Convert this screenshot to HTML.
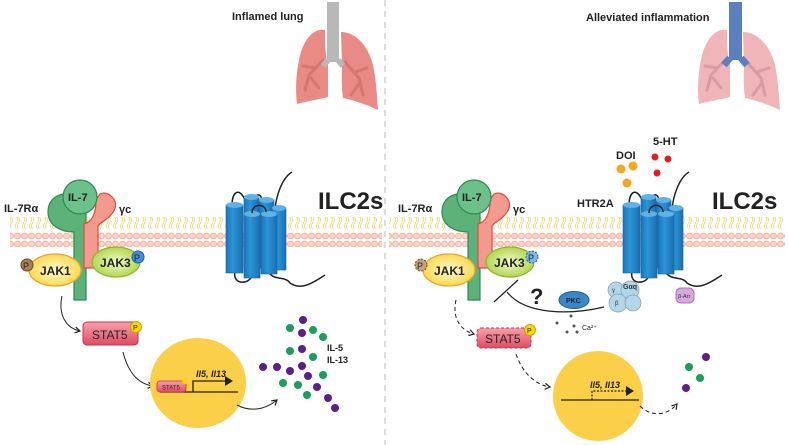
<!DOCTYPE html>
<html><head><meta charset="utf-8"><style>
html,body{margin:0;padding:0;background:#fff}
svg{display:block}
text{font-family:"Liberation Sans",Arial,sans-serif}
</style></head><body>
<svg width="788" height="445" viewBox="0 0 788 445" xmlns="http://www.w3.org/2000/svg">
<defs>
<pattern id="mem" x="0" y="0" width="7" height="30" patternUnits="userSpaceOnUse">
<circle cx="3.5" cy="4" r="3" fill="#fbd3c8" stroke="#f2a797" stroke-width="0.8"/>
<circle cx="3.5" cy="26" r="3" fill="#fbd3c8" stroke="#f2a797" stroke-width="0.8"/>
<path d="M2.5 7 q2 3 0 6 t0 6 M4.5 7 q2 3 0 6 t0 6" stroke="#f3c63a" stroke-width="0.6" fill="none"/>
</pattern>
<linearGradient id="cyl" x1="0" x2="1"><stop offset="0" stop-color="#1d74b8"/><stop offset="0.4" stop-color="#2a95d8"/><stop offset="1" stop-color="#1b6fb0"/></linearGradient>
<radialGradient id="jak1" cx="0.5" cy="0.5" r="0.6"><stop offset="0" stop-color="#fffbd0"/><stop offset="1" stop-color="#f8d23a"/></radialGradient>
<radialGradient id="jak3" cx="0.5" cy="0.5" r="0.6"><stop offset="0" stop-color="#f2fbc8"/><stop offset="1" stop-color="#a6cf3a"/></radialGradient>
<linearGradient id="stat" x1="0" x2="0" y1="0" y2="1"><stop offset="0" stop-color="#f7a0ac"/><stop offset="1" stop-color="#e04c63"/></linearGradient>
<marker id="ah" markerWidth="8" markerHeight="8" refX="6" refY="4" orient="auto"><path d="M1 1 L6 4 L1 7" fill="none" stroke="#222" stroke-width="1.2"/></marker>
<g id="gpcr">
<path d="M245 200 C240 188 232 190 232 206 M262 202 C262 190 252 195 254 204 M275 210 C276 196 282 178 292 172" stroke="#222" stroke-width="1.5" fill="none"/>
<path d="M235 272 C232 285 250 285 252 275 M268 270 C272 282 285 275 290 283 C300 290 310 285 325 275" stroke="#222" stroke-width="1.5" fill="none"/>
<rect x="244" y="197" width="15" height="70" fill="url(#cyl)" stroke="#16629c" stroke-width="0.6"/><ellipse cx="251.5" cy="197" rx="7.5" ry="3" fill="#5fb2e6"/>
<rect x="259" y="200" width="15" height="68" fill="url(#cyl)" stroke="#16629c" stroke-width="0.6"/><ellipse cx="266.5" cy="200" rx="7.5" ry="3" fill="#5fb2e6"/>
<rect x="272" y="208" width="14" height="62" fill="url(#cyl)" stroke="#16629c" stroke-width="0.6"/><ellipse cx="279" cy="208" rx="7" ry="3" fill="#5fb2e6"/>
<rect x="226" y="205" width="17" height="68" fill="url(#cyl)" stroke="#16629c" stroke-width="0.6"/><ellipse cx="234.5" cy="205" rx="8.5" ry="3" fill="#5fb2e6"/>
<rect x="244" y="214" width="16" height="64" fill="url(#cyl)" stroke="#16629c" stroke-width="0.6"/><ellipse cx="252" cy="214" rx="8" ry="3" fill="#5fb2e6"/>
<rect x="261" y="214" width="16" height="60" fill="url(#cyl)" stroke="#16629c" stroke-width="0.6"/><ellipse cx="269" cy="214" rx="8" ry="3" fill="#5fb2e6"/>
<path d="M252 213 C252 203 266 203 266 212" stroke="#222" stroke-width="1.5" fill="none"/>
</g>
<g id="rec">
<path d="M74 300 L74 232 C60 232 48 225 48 212 C48 198 60 192 72 194 L86 200 L86 300 Z" fill="#5cb37a" stroke="#2f8a50" stroke-width="1.2"/>
<path d="M84 268 L84 224 C92 222 96 214 96 200 L100 194 C108 190 118 200 115 208 C112 218 100 222 98 226 L98 268 Z" fill="#f29a8e" stroke="#e0493f" stroke-width="1.2"/>
<circle cx="80" cy="197" r="17" fill="#6cc08a" stroke="#2f8a50" stroke-width="1.2"/>
</g>
<g id="lung">
<path d="M-8 30 C-20 28 -30 40 -34 60 C-38 80 -37 95 -36 104 C-25 101 -12 99 -5 97 L-5 64 C-8 55 -8 40 -8 30 Z"/>
<path d="M8 32 C22 32 35 45 40 65 C44 85 44 100 45 110 C35 105 20 100 10 98 C8 85 9 72 9 64 Z"/>
</g>
<g id="bronch" fill="none" stroke-width="3" stroke-linecap="round">
<path d="M-10 60 L-24 75 L-28 90 M-18 68 L-30 66 M-22 78 L-14 88"/>
<path d="M12 62 L26 78 L30 95 M22 72 L34 68 M26 84 L18 95"/>
</g>
</defs>

<line x1="385" y1="0" x2="385" y2="445" stroke="#bbb" stroke-width="1" stroke-dasharray="6,5"/>

<text x="232" y="20" font-size="11" font-weight="bold" fill="#222">Inflamed lung</text>
<text x="586" y="21" font-size="11" font-weight="bold" fill="#222">Alleviated inflammation</text>

<g fill="#ea8a84" transform="translate(333,0)"><use href="#lung"/><use href="#bronch" stroke="#d77571"/></g>
<rect x="327" y="2" width="12" height="60" fill="#b8b8b8"/>
<path d="M328 60 L323 66 M338 60 L343 66" stroke="#b8b8b8" stroke-width="6"/>
<g fill="#f0b5b8" transform="translate(735,0)"><use href="#lung"/><use href="#bronch" stroke="#d99aa6"/></g>
<rect x="729" y="2" width="13" height="58" fill="#5c7fc0"/>
<path d="M730 58 L724 65 M741 58 L747 65" stroke="#5c7fc0" stroke-width="7"/>

<rect x="10" y="217" width="372" height="30" fill="url(#mem)"/>
<rect x="389" y="217" width="396" height="30" fill="url(#mem)"/>

<use href="#rec"/>
<use href="#gpcr"/>
<use href="#rec" transform="translate(394,0)"/>
<use href="#gpcr" transform="translate(397,0)"/>

<text x="4" y="212" font-size="11" font-weight="bold" fill="#222">IL-7Rα</text>
<text x="68" y="201" font-size="11" font-weight="bold" fill="#222">IL-7</text>
<text x="119" y="213" font-size="11" font-weight="bold" fill="#222">γc</text>
<text x="318" y="209" font-size="24" font-weight="bold" fill="#222">ILC2s</text>

<ellipse cx="55" cy="270" rx="26" ry="16" fill="url(#jak1)" stroke="#f0a228" stroke-width="1.2"/>
<text x="40" y="275" font-size="12" font-weight="bold" fill="#222">JAK1</text>
<circle cx="27" cy="265" r="6" fill="#a9825a" stroke="#6b4a2a"/>
<text x="23" y="269" font-size="9" fill="#222">P</text>
<ellipse cx="116" cy="262" rx="24" ry="15" fill="url(#jak3)" stroke="#8cb52a" stroke-width="1.2"/>
<text x="100" y="267" font-size="12" font-weight="bold" fill="#222">JAK3</text>
<circle cx="138" cy="257" r="6" fill="#3d8fd6" stroke="#1f5e9e"/>
<text x="134" y="261" font-size="9" fill="#222">P</text>

<path d="M62 296 C58 315 66 328 80 331" fill="none" stroke="#222" marker-end="url(#ah)"/>
<rect x="83" y="322" width="55" height="23" rx="4" fill="url(#stat)" stroke="#d02f45"/>
<text x="92" y="339" font-size="12" fill="#222">STAT5</text>
<circle cx="136" cy="327" r="5.5" fill="#f8d800" stroke="#c7a400"/>
<text x="133" y="330" font-size="7" fill="#222">P</text>
<path d="M123 352 C128 372 138 384 153 386" fill="none" stroke="#222" marker-end="url(#ah)"/>

<ellipse cx="198" cy="383" rx="48" ry="45" fill="#fccf49"/>
<line x1="160" y1="392" x2="238" y2="392" stroke="#222" stroke-width="1.3"/>
<rect x="157" y="381" width="29" height="11" rx="3" fill="url(#stat)" stroke="#d02f45" stroke-width="0.8"/>
<text x="162" y="389.5" font-size="6" fill="#222">STAT5</text>
<circle cx="185" cy="381" r="3" fill="#f8d800"/>
<path d="M193 392 L193 381 L226 381" fill="none" stroke="#222" stroke-width="1.3"/>
<path d="M225 376 L233 381 L225 386 Z" fill="#222"/>
<text x="196" y="377" font-size="9" font-weight="bold" font-style="italic" fill="#222">Il5, Il13</text>
<path d="M237 405 C250 412 265 410 277 400" fill="none" stroke="#222" marker-end="url(#ah)"/>

<g fill="#1a9e5f"><circle cx="290" cy="328" r="4"/><circle cx="313" cy="330" r="4"/><circle cx="323" cy="337" r="4"/><circle cx="290" cy="351" r="4"/><circle cx="313" cy="357" r="4"/><circle cx="323" cy="375" r="4"/><circle cx="283" cy="383" r="4"/><circle cx="298" cy="385" r="4"/><circle cx="307" cy="395" r="4"/></g>
<g fill="#5a1f8a"><circle cx="303" cy="320" r="4"/><circle cx="302" cy="333" r="4"/><circle cx="302" cy="349" r="4"/><circle cx="263" cy="367" r="4"/><circle cx="277" cy="367" r="4"/><circle cx="290" cy="371" r="4"/><circle cx="302" cy="366" r="4"/><circle cx="308" cy="376" r="4"/><circle cx="317" cy="387" r="4"/><circle cx="328" cy="398" r="4"/><circle cx="335" cy="408" r="4"/></g>
<text x="327" y="351" font-size="9" font-weight="bold" fill="#222">IL-5</text>
<text x="327" y="363" font-size="9" font-weight="bold" fill="#222">IL-13</text>

<text x="398" y="212" font-size="11" font-weight="bold" fill="#222">IL-7Rα</text>
<text x="462" y="201" font-size="11" font-weight="bold" fill="#222">IL-7</text>
<text x="513" y="213" font-size="11" font-weight="bold" fill="#222">γc</text>
<text x="577" y="207" font-size="11" font-weight="bold" fill="#222">HTR2A</text>
<text x="712" y="209" font-size="24" font-weight="bold" fill="#222">ILC2s</text>
<text x="616" y="159" font-size="11" font-weight="bold" fill="#222">DOI</text>
<text x="653" y="145" font-size="11" font-weight="bold" fill="#222">5-HT</text>
<g fill="#f5a623"><circle cx="621" cy="169" r="4.5"/><circle cx="633" cy="166" r="4.5"/><circle cx="627" cy="183" r="4.5"/></g>
<g fill="#e02020"><circle cx="655" cy="157" r="3.5"/><circle cx="668" cy="159" r="3.5"/><circle cx="657" cy="173" r="3.5"/></g>

<ellipse cx="449" cy="270" rx="26" ry="16" fill="url(#jak1)" stroke="#f0a228" stroke-width="1.2"/>
<text x="434" y="275" font-size="12" font-weight="bold" fill="#222">JAK1</text>
<circle cx="421" cy="265" r="6" fill="#c4a27a" stroke="#6b4a2a" stroke-dasharray="2,1.5"/>
<text x="417" y="269" font-size="9" fill="#222">P</text>
<ellipse cx="510" cy="262" rx="24" ry="15" fill="url(#jak3)" stroke="#8cb52a" stroke-width="1.2"/>
<text x="494" y="267" font-size="12" font-weight="bold" fill="#222">JAK3</text>
<circle cx="532" cy="257" r="6" fill="#7db8e8" stroke="#1f5e9e" stroke-dasharray="2,1.5"/>
<text x="528" y="261" font-size="9" fill="#222">P</text>

<line x1="494" y1="302" x2="518" y2="280" stroke="#222" stroke-width="1.3"/>
<path d="M507 292 C525 315 570 315 604 307" fill="none" stroke="#222" stroke-width="1.2"/>
<text x="530" y="304" font-size="22" font-weight="bold" fill="#222">?</text>
<ellipse cx="574" cy="300" rx="15" ry="8.5" fill="#3a87c8" stroke="#1f5e9e"/>
<text x="566" y="303" font-size="7" font-weight="bold" fill="#222">PKC</text>
<g fill="#555"><circle cx="557" cy="323" r="1.5"/><circle cx="571" cy="316" r="1.5"/><circle cx="574" cy="326" r="1.5"/><circle cx="567" cy="332" r="1.5"/><circle cx="577" cy="332" r="1.5"/></g>
<text x="582" y="330" font-size="7" fill="#222">Ca²⁺</text>
<g fill="#b3d6ea" stroke="#7f9eb0" stroke-width="0.7"><circle cx="616" cy="290" r="8"/><circle cx="630" cy="290" r="9"/><circle cx="618" cy="303" r="9"/><circle cx="633" cy="303" r="8"/></g>
<text x="612" y="292" font-size="6" fill="#333">γ</text>
<text x="623" y="289" font-size="7" font-weight="bold" fill="#333">Gαq</text>
<text x="615" y="305" font-size="6" fill="#333">β</text>
<rect x="676" y="288" width="18" height="15" rx="5" fill="#d8a8de" stroke="#a876b2"/>
<text x="678" y="298" font-size="5.5" fill="#333">β-Arr</text>

<path d="M456 300 C452 318 460 330 474 334" fill="none" stroke="#222" stroke-dasharray="4,3" marker-end="url(#ah)"/>
<rect x="477" y="328" width="54" height="20" rx="4" fill="url(#stat)" stroke="#d02f45" stroke-dasharray="3,2"/>
<text x="485" y="343" font-size="12" fill="#222">STAT5</text>
<circle cx="530" cy="330" r="5.5" fill="#f8d800" stroke="#c7a400"/>
<text x="527" y="333" font-size="7" fill="#222">P</text>
<path d="M516 354 C522 372 535 385 550 387" fill="none" stroke="#222" stroke-dasharray="4,3" marker-end="url(#ah)"/>

<circle cx="598" cy="396" r="45" fill="#fccf49"/>
<line x1="561" y1="400" x2="639" y2="400" stroke="#222" stroke-width="1.3"/>
<path d="M592 400 L592 391 L627 391" fill="none" stroke="#222" stroke-width="1.2" stroke-dasharray="2,1.5"/>
<path d="M626 386 L634 391 L626 396 Z" fill="#222"/>
<text x="590" y="388" font-size="9" font-weight="bold" font-style="italic" fill="#222">Il5, Il13</text>
<path d="M640 406 C652 418 668 415 677 404" fill="none" stroke="#222" stroke-dasharray="4,3" marker-end="url(#ah)"/>
<g fill="#1a9e5f"><circle cx="689" cy="367" r="4"/><circle cx="700" cy="378" r="4"/></g>
<g fill="#5a1f8a"><circle cx="706" cy="357" r="4"/><circle cx="686" cy="388" r="4"/></g>
</svg>
</body></html>
